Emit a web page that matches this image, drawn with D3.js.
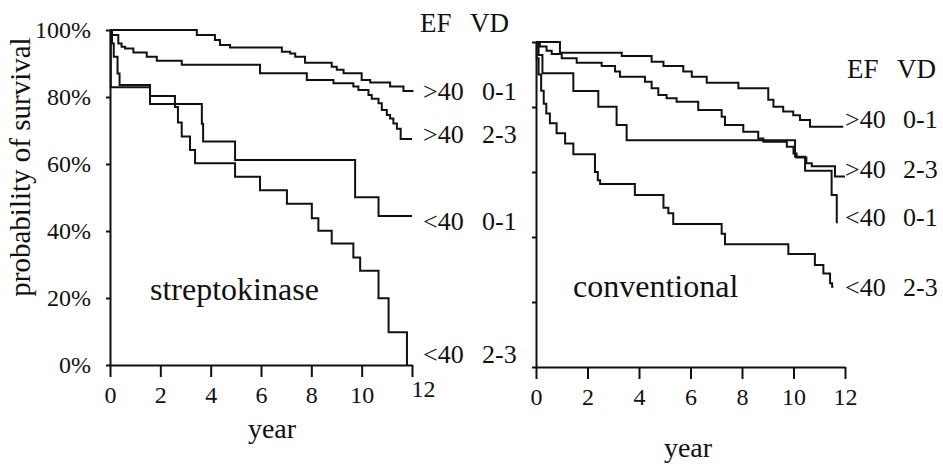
<!DOCTYPE html>
<html>
<head>
<meta charset="utf-8">
<script src="https://cdn.jsdelivr.net/npm/d3@7"></script>
<style>
  body { margin: 0; background: #fff; }
  svg { display: block; }
  svg text { font-family: "Liberation Serif", "DejaVu Serif", serif !important; fill: #111; }
</style>
</head>
<body>
<div id="chart"></div>
<script>
// FIGURE DIMENSIONS
const FIGURE = { WIDTH: 943, HEIGHT: 470 };
const FONT = '"Liberation Serif", "DejaVu Serif", serif';

// tick values
const TICK_YEARS = [0, 2, 4, 6, 8, 10, 12];
const TICK_PCT = [0, 20, 40, 60, 80, 100];

// legend text
const EF_LABELS = ['>40', '>40', '<40', '<40'];
const VD_LABELS = ['0-1', '2-3', '0-1', '2-3'];

// streptokinase arm (year of step, survival % after step)
const skA_t = [0, 3.45, 4.17, 4.37, 4.77, 6.83, 7.16, 7.36, 7.75, 8.81, 9.01, 9.28, 10.0, 10.34, 11.13, 11.66];
const skA_s = [100, 98.5, 97, 95.5, 94.8, 93.5, 93, 92, 90.2, 89, 88.1, 87.1, 85.1, 84.3, 83.1, 81.8];
const skB_t = [0, 0.07, 0.33, 0.46, 0.6, 0.93, 1.46, 1.86, 2.85, 5.96, 7.82, 8.88, 9.67, 9.87, 10.27, 10.4, 10.67, 10.8, 11.0, 11.13, 11.26, 11.4, 11.55];
const skB_s = [100, 98.5, 96, 95, 94.5, 93.3, 92, 90.8, 89.6, 87.1, 85.1, 84.1, 83.1, 82.1, 80.6, 79.5, 78.1, 76.1, 74.6, 73.6, 72.1, 70.5, 67.5];
const skC_t = [0, 0.08, 0.15, 0.3, 0.38, 1.59, 3.65, 3.7, 4.97, 9.74, 10.67];
const skC_s = [100, 96, 92, 87, 83.6, 77.9, 72, 66.7, 61.2, 50.1, 44.5];
const skD_t = [0, 0.03, 1.59, 2.58, 2.7, 2.85, 3.18, 3.38, 4.97, 5.96, 7.03, 8.02, 8.28, 8.81, 9.67, 9.94, 10.67, 11.07, 11.8];
const skD_s = [100, 82.9, 80.3, 77, 72.4, 68.2, 64.2, 60.2, 56.2, 52.2, 48.1, 43.8, 40.1, 36.3, 32.1, 28.1, 19.9, 9.8, 0];
const skEnd = [12.06, 12.0, 12.0, 11.8];

// conventional arm
const cvA_t = [0, 0.93, 3.33, 4.49, 4.95, 5.72, 6.05, 6.63, 7.86, 9.02, 9.22, 9.6, 9.99, 10.25, 10.64];
const cvA_s = [100, 96.7, 95.7, 93.9, 92.6, 90.9, 89.3, 87.5, 85.8, 82.2, 80.1, 78.6, 77.5, 76.0, 73.9];
const cvB_t = [0, 0.15, 0.41, 0.61, 1.0, 1.58, 2.55, 3.07, 3.26, 4.23, 4.49, 4.75, 5.07, 5.46, 6.3, 7.21, 7.34, 8.05, 8.63, 8.83, 9.74, 10.0, 10.12, 10.5, 10.71, 11.61];
const cvB_s = [100, 98.6, 97.3, 96.3, 95.0, 93.6, 92.6, 90.9, 89.3, 87.8, 85.8, 83.7, 82.7, 81.6, 79.1, 77.0, 74.5, 72.4, 70.3, 69.3, 67.8, 65.7, 64.5, 62.7, 61.8, 58.6];
const cvC_t = [0, 0.1, 0.25, 1.45, 2.42, 3.13, 3.52, 10.06, 10.45, 11.48, 11.68];
const cvC_s = [100, 96, 90.4, 84.9, 80.1, 74.5, 69.8, 64.7, 60.4, 52.9, 44.2];
const cvD_t = [0, 0.03, 0.1, 0.2, 0.3, 0.4, 0.54, 0.8, 1.13, 1.45, 2.29, 2.4, 2.49, 3.84, 4.95, 5.14, 5.33, 7.21, 7.34, 9.8, 10.83, 11.16, 11.42, 11.5];
const cvD_s = [100, 95, 90, 85, 81, 78, 75, 71.9, 68.8, 65.5, 60, 57.5, 56.3, 52.9, 49, 47.3, 44, 41, 37.8, 34.8, 31.4, 28.8, 25.8, 24.7];
const cvEnd = [11.93, 12.0, 11.68, 11.55];

// panel layout
const LEFT = {
    X0: 110, X1: 412, Y0: 365, Y100: 30,
    NAME: 'streptokinase', NAME_X: 150, NAME_Y: 300,
    YEAR_X: 272, YEAR_Y: 438,
    EF_X: 423, VD_X: 482, ROW_Y: [100, 143, 230, 363],
    HEAD_EF_X: 420, HEAD_VD_X: 470, HEAD_Y: 32
};
const RIGHT = {
    X0: 536, X1: 845, Y0: 367, Y100: 42,
    NAME: 'conventional', NAME_X: 573, NAME_Y: 297,
    YEAR_X: 688, YEAR_Y: 457,
    EF_X: 845, VD_X: 903, ROW_Y: [128, 178, 226, 296],
    HEAD_EF_X: 847, HEAD_VD_X: 897, HEAD_Y: 78
};

function steps(t, s, end) {
    const pts = t.map((d, i) => [d, s[i]]);
    pts.push([end, s[s.length - 1]]);
    return pts;
}

const svg = d3.select('#chart')
    .append('svg')
        .attr('width', FIGURE.WIDTH)
        .attr('height', FIGURE.HEIGHT)
        .attr('font-family', FONT);

function addText(g, x, y, size, str) {
    return g.append('text')
        .attr('x', x)
        .attr('y', y)
        .attr('font-family', FONT)
        .style('font-size', size + 'px')
        .text(str);
}

function drawPanel(P, curves, yLabels) {
    const x = d3.scaleLinear().domain([0, 12]).range([P.X0, P.X1]);
    const y = d3.scaleLinear().domain([0, 100]).range([P.Y0, P.Y100]);

    const g = svg.append('g');

    // curves
    const line = d3.line()
        .x(d => x(d[0]))
        .y(d => y(d[1]))
        .curve(d3.curveStepAfter);

    g.append('g')
        .selectAll('path')
        .data(curves)
        .enter()
        .append('path')
            .attr('d', line)
            .attr('fill', 'none')
            .attr('stroke', '#111')
            .attr('stroke-width', 2);

    // x axis
    const xAxis = d3.axisBottom(x)
        .tickValues(TICK_YEARS)
        .tickSize(12)
        .tickSizeOuter(0);

    const gx = g.append('g')
        .attr('transform', `translate(0,${P.Y0})`)
        .call(xAxis);
    gx.selectAll('text')
        .attr('y', 38)
        .attr('dy', null)
        .style('font-size', '24px');

    // y axis
    const yAxis = d3.axisLeft(y)
        .tickValues(TICK_PCT)
        .tickSize(4)
        .tickSizeOuter(0)
        .tickPadding(15)
        .tickFormat(yLabels ? (d => d + '%') : (() => ''));

    const gy = g.append('g')
        .attr('transform', `translate(${P.X0},0)`)
        .call(yAxis);
    gy.selectAll('text')
        .style('font-size', '24px');

    [gx, gy].forEach(a => {
        a.attr('font-family', FONT);
        a.select('.domain').attr('stroke', '#111').attr('stroke-width', 2);
        a.selectAll('.tick line').attr('stroke', '#111').attr('stroke-width', 2);
        a.selectAll('text').attr('fill', '#111');
    });

    // group name and axis title
    addText(g, P.NAME_X, P.NAME_Y, 32, P.NAME);
    addText(g, P.YEAR_X, P.YEAR_Y, 28, 'year')
        .attr('text-anchor', 'middle');

    // legend
    addText(g, P.HEAD_EF_X, P.HEAD_Y, 27, 'EF');
    addText(g, P.HEAD_VD_X, P.HEAD_Y, 27, 'VD');

    EF_LABELS.forEach((lab, i) => {
        addText(g, P.EF_X, P.ROW_Y[i], 26, lab);
        addText(g, P.VD_X, P.ROW_Y[i], 26, VD_LABELS[i]);
    });

    return gx;
}

const gxLeft = drawPanel(LEFT, [
    steps(skA_t, skA_s, skEnd[0]),
    steps(skB_t, skB_s, skEnd[1]),
    steps(skC_t, skC_s, skEnd[2]),
    steps(skD_t, skD_s, skEnd[3])
], true);

// the "12" on the left panel sits off its tick
gxLeft.selectAll('.tick')
    .filter(d => d === 12)
    .select('text')
        .attr('x', 11)
        .attr('y', 32);

drawPanel(RIGHT, [
    steps(cvA_t, cvA_s, cvEnd[0]),
    steps(cvB_t, cvB_s, cvEnd[1]),
    steps(cvC_t, cvC_s, cvEnd[2]),
    steps(cvD_t, cvD_s, cvEnd[3])
], false);

// y axis title
svg.append('text')
    .attr('transform', 'translate(30,167) rotate(-90)')
    .attr('text-anchor', 'middle')
    .attr('font-family', FONT)
    .style('font-size', '29px')
    .text('probability of survival');
</script>
</body>
</html>
